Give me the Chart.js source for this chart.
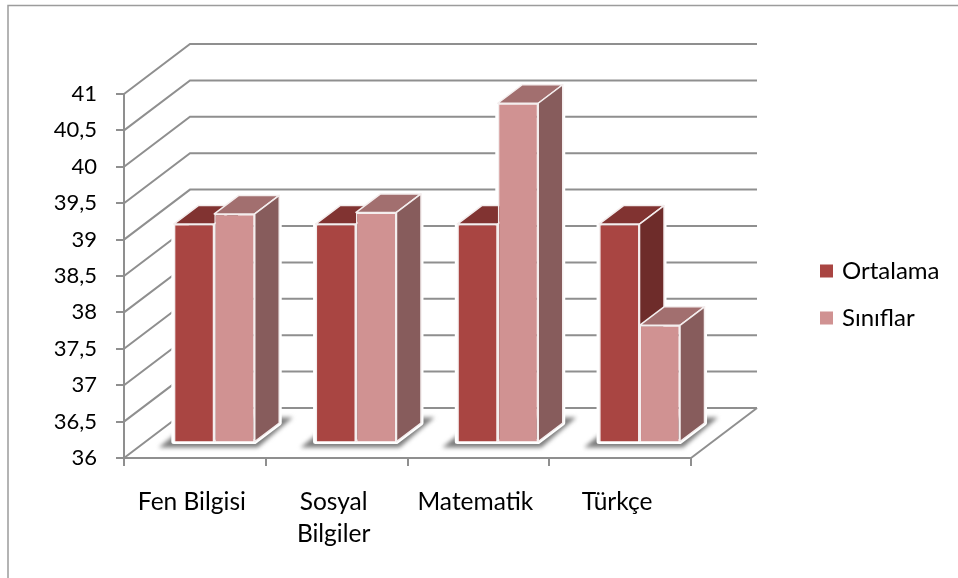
<!DOCTYPE html>
<html>
<head>
<meta charset="utf-8">
<style>
html, body { margin: 0; padding: 0; background: #fff; }
#wrap { width: 958px; height: 578px; }
</style>
<script src="https://cdn.jsdelivr.net/npm/chart.js@4"></script>
</head>
<body>
<div id="wrap"><canvas id="chart" width="958" height="578"></canvas></div>
<script>
const categories = ['Fen Bilgisi', ['Sosyal', 'Bilgiler'], 'Matematik', 'Türkçe'];
const ortalama = [39, 39, 39, 39];
const siniflar = [39.14, 39.16, 40.66, 37.61];
const yTickLabels = ['36', '36,5', '37', '37,5', '38', '38,5', '39', '39,5', '40', '40,5', '41'];

const FONT = 'Lato, Carlito, sans-serif';
const GRID = '#8f8f8f';
// 3d look: wall depth and how far the bars sit inside the floor
const WALL = { dx: 66, dy: -50 };
const INSET = { dx: 19.4, dy: -15.5 };
const DEPTH = { dx: 24.5, dy: -18.5 };
const faces = [
    { front: '#a94542', side: '#6e2c2a', top: '#813331' },
    { front: '#d09292', side: '#875c5c', top: '#a26f6f' }
];

function poly(ctx, pts) {
    ctx.beginPath();
    pts.forEach((p, i) => i ? ctx.lineTo(p[0], p[1]) : ctx.moveTo(p[0], p[1]));
    ctx.closePath();
}

function barBox(bar) {
    const p = bar.getProps(['x', 'y', 'base', 'width']);
    return {
        l: p.x - p.width / 2 + INSET.dx,
        r: p.x + p.width / 2 + INSET.dx,
        t: p.y + INSET.dy,
        b: p.base + INSET.dy
    };
}

function drawWalls(chart) {
    const ctx = chart.ctx;
    const area = chart.chartArea;
    const y = chart.scales.y;
    ctx.save();
    ctx.strokeStyle = GRID;
    ctx.lineWidth = 2;
    y.ticks.forEach(t => {
        const py = y.getPixelForValue(t.value);
        ctx.beginPath();
        ctx.moveTo(area.left, py);
        ctx.lineTo(area.left + WALL.dx, py + WALL.dy);
        ctx.lineTo(area.right + WALL.dx, py + WALL.dy);
        ctx.stroke();
    });
    ctx.beginPath();
    ctx.moveTo(area.right, area.bottom);
    ctx.lineTo(area.right + WALL.dx, area.bottom + WALL.dy);
    ctx.stroke();
    ctx.restore();
}

function drawShadows(chart) {
    const ctx = chart.ctx;
    const first = chart.getDatasetMeta(0).data;
    const last = chart.getDatasetMeta(1).data;
    ctx.save();
    ctx.filter = 'blur(2px)';
    ctx.fillStyle = '#7d7d7d';
    first.forEach((bar, i) => {
        const a = barBox(bar);
        const b = barBox(last[i]);
        poly(ctx, [[a.l - 15, b.b + 6], [b.r + 3, b.b + 6], [b.r + 38, b.b - 24], [a.l + 22, b.b - 24]]);
        ctx.fill();
    });
    ctx.restore();
}

function drawHalo(ctx, box) {
    const d = DEPTH;
    ctx.save();
    ctx.strokeStyle = '#fff';
    ctx.lineWidth = 5;
    ctx.lineJoin = 'round';
    poly(ctx, [[box.l, box.b], [box.l, box.t], [box.l + d.dx, box.t + d.dy], [box.r + d.dx, box.t + d.dy],
        [box.r + d.dx, box.b + d.dy], [box.r, box.b]]);
    ctx.stroke();
    ctx.restore();
}

function drawDepth(ctx, box, face) {
    const d = DEPTH;
    ctx.save();
    ctx.strokeStyle = '#f4eeee';
    ctx.lineWidth = 1.5;
    ctx.lineJoin = 'round';
    ctx.fillStyle = face.top;
    poly(ctx, [[box.l, box.t], [box.l + d.dx, box.t + d.dy], [box.r + d.dx, box.t + d.dy], [box.r, box.t]]);
    ctx.fill();
    ctx.stroke();
    ctx.fillStyle = face.side;
    poly(ctx, [[box.r, box.t], [box.r + d.dx, box.t + d.dy], [box.r + d.dx, box.b + d.dy], [box.r, box.b]]);
    ctx.fill();
    ctx.stroke();
    ctx.restore();
}

const box3d = {
    id: 'box3d',
    beforeLayout(chart) {
        // legend sits far from the plot, keep its slot as wide as the right margin
        const legend = chart.legend;
        if (legend && !legend._wide) {
            const fit = legend.fit;
            legend.fit = function() {
                fit.call(this);
                this.width = 267;
            };
            legend._wide = true;
        }
    },
    afterLayout(chart) {
        const legend = chart.legend;
        const w = legend.width;
        legend.left = 823 - legend.options.labels.padding;
        legend.right = legend.left + w;
        legend.top = 236;
    },
    beforeDraw(chart) {
        const ctx = chart.ctx;
        ctx.save();
        ctx.strokeStyle = '#9c9c9c';
        ctx.lineWidth = 1.5;
        ctx.beginPath();
        ctx.moveTo(8, 578);
        ctx.lineTo(8, 5.5);
        ctx.lineTo(958, 5.5);
        ctx.stroke();
        ctx.restore();
    },
    beforeDatasetsDraw(chart) {
        const ctx = chart.ctx;
        drawWalls(chart);
        drawShadows(chart);
        chart.data.datasets.forEach((ds, i) => {
            chart.getDatasetMeta(i).data.forEach(bar => drawHalo(ctx, barBox(bar)));
        });
        // first series first, so the second one covers it like in the original
        chart.data.datasets.forEach((ds, i) => {
            chart.getDatasetMeta(i).data.forEach(bar => {
                drawDepth(ctx, barBox(bar), faces[i]);
                ctx.save();
                ctx.translate(INSET.dx, INSET.dy);
                bar.draw(ctx);
                ctx.restore();
            });
        });
        return false;
    }
};

new Chart(document.getElementById('chart'), {
    type: 'bar',
    data: {
        labels: categories,
        datasets: [
            { label: 'Ortalama', data: ortalama, base: 36, backgroundColor: faces[0].front, borderColor: '#f4eeee', borderWidth: 1.5 },
            { label: 'Sınıflar', data: siniflar, base: 36, backgroundColor: faces[1].front, borderColor: '#f4eeee', borderWidth: 1.5 }
        ]
    },
    options: {
        responsive: false,
        animation: false,
        layout: { padding: { top: 94, left: 0, right: 0, bottom: 0 } },
        categoryPercentage: 0.571,
        barPercentage: 1,
        plugins: {
            tooltip: { enabled: false },
            title: { display: false },
            legend: {
                position: 'right',
                align: 'start',
                labels: {
                    // narrow box with a thick stroke, the text sits closer to the swatch this way
                    boxWidth: 7,
                    boxHeight: 7,
                    padding: 23,
                    color: '#000',
                    font: { family: FONT, size: 24 },
                    generateLabels(chart) {
                        const items = Chart.defaults.plugins.legend.labels.generateLabels(chart);
                        items.forEach(item => {
                            item.strokeStyle = item.fillStyle;
                            item.lineWidth = 6;
                        });
                        return items;
                    }
                }
            }
        },
        scales: {
            x: {
                afterFit(scale) { scale.height = 120; },
                grid: { drawOnChartArea: false, color: GRID, lineWidth: 2, tickLength: 8 },
                border: { color: GRID, width: 2 },
                ticks: {
                    color: '#000',
                    padding: 20,
                    labelOffset: -3,
                    maxRotation: 0,
                    font: { family: FONT, size: 24.5, lineHeight: 1.31 }
                }
            },
            y: {
                min: 36,
                max: 41,
                afterFit(scale) { scale.width = 124; },
                grid: { drawOnChartArea: false, color: GRID, lineWidth: 2, tickLength: 8 },
                border: { color: GRID, width: 2 },
                ticks: {
                    stepSize: 0.5,
                    color: '#000',
                    padding: 19,
                    font: { family: FONT, size: 22 },
                    callback: (value, index) => yTickLabels[index]
                }
            }
        }
    },
    plugins: [box3d]
});
</script>
</body>
</html>
